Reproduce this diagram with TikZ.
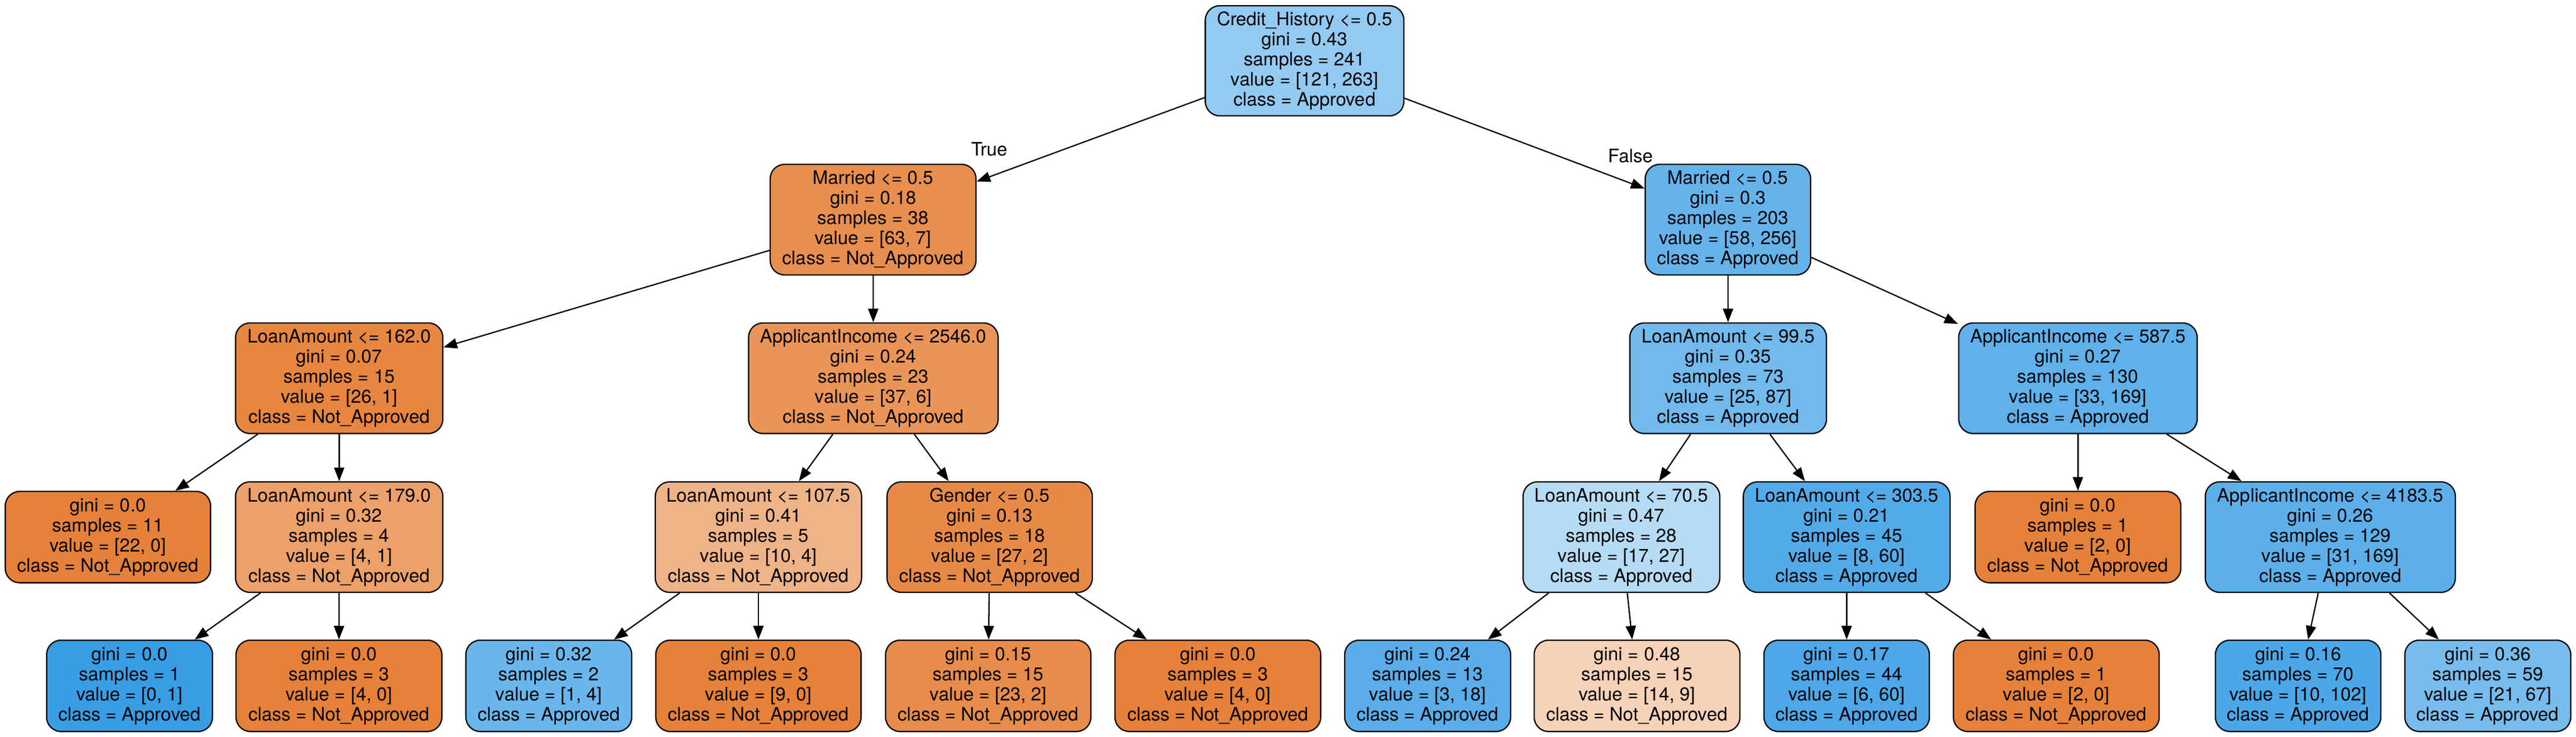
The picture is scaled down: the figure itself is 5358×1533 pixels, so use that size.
\documentclass[tikz,border=0pt]{standalone}
\usepackage{fontspec}
\setmainfont{TeX Gyre Heros}
\usetikzlibrary{arrows.meta}
\definecolor{cRoot}{RGB}{148,202,241}
\definecolor{cmL}{RGB}{232,143,79}
\definecolor{cmR}{RGB}{102,179,235}
\definecolor{cLAa}{RGB}{230,134,65}
\definecolor{cAIa}{RGB}{233,149,89}
\definecolor{cLAb}{RGB}{114,185,236}
\definecolor{cAIb}{RGB}{96,176,234}
\definecolor{cOr}{RGB}{229,129,57}
\definecolor{cBl}{RGB}{57,157,229}
\definecolor{cLAc}{RGB}{236,160,106}
\definecolor{cLAd}{RGB}{239,179,136}
\definecolor{cGen}{RGB}{231,138,72}
\definecolor{cLAe}{RGB}{182,219,245}
\definecolor{cLAf}{RGB}{83,170,232}
\definecolor{cAIc}{RGB}{93,175,234}
\definecolor{cLc}{RGB}{106,182,236}
\definecolor{cLe}{RGB}{231,140,74}
\definecolor{cLg}{RGB}{90,173,233}
\definecolor{cLh}{RGB}{246,210,184}
\definecolor{cLi}{RGB}{77,167,232}
\definecolor{cLk}{RGB}{76,167,232}
\definecolor{cLl}{RGB}{119,188,237}
\begin{document}
\begin{tikzpicture}[x=0.25pt,y=-0.25pt,
  tnode/.style={draw=black, line width=0.68pt, rounded corners=7.5pt, inner sep=0pt,
    align=center, font=\fontsize{9.65pt}{10.45pt}\selectfont},
  five/.style={tnode, minimum height=57.5pt},
  four/.style={tnode, minimum height=47.5pt},
  edge/.style={draw=black, line width=0.68pt, -{Triangle[length=7.1pt,width=5.3pt]}},
  elabel/.style={anchor=base, inner sep=0pt, font=\fontsize{9.65pt}{10.45pt}\selectfont}]
\useasboundingbox (0,0) rectangle (5358,1533);
% row 0
\node[five, minimum height=57.25pt, minimum width=103.25pt, fill=cRoot] (root) at (2713.5,126.5)
  {Credit\_History <= 0.5\\gini = 0.43\\samples = 241\\value = [121, 263]\\class = Approved};
% row 1
\node[five, minimum width=107pt, fill=cmL] (mL) at (1816,457)
  {Married <= 0.5\\gini = 0.18\\samples = 38\\value = [63, 7]\\class = Not\_Approved};
\node[five, minimum width=86pt, fill=cmR] (mR) at (3594,457)
  {Married <= 0.5\\gini = 0.3\\samples = 203\\value = [58, 256]\\class = Approved};
% row 2
\node[five, minimum width=107.75pt, fill=cLAa] (la162) at (705.5,787)
  {LoanAmount <= 162.0\\gini = 0.07\\samples = 15\\value = [26, 1]\\class = Not\_Approved};
\node[five, minimum width=129.75pt, fill=cAIa] (ai2546) at (1816.5,787)
  {ApplicantIncome <= 2546.0\\gini = 0.24\\samples = 23\\value = [37, 6]\\class = Not\_Approved};
\node[five, minimum width=102.25pt, fill=cLAb] (la995) at (3594.5,787)
  {LoanAmount <= 99.5\\gini = 0.35\\samples = 73\\value = [25, 87]\\class = Approved};
\node[five, minimum width=124pt, fill=cAIb] (ai5875) at (4322,787)
  {ApplicantIncome <= 587.5\\gini = 0.27\\samples = 130\\value = [33, 169]\\class = Approved};
% row 3
\node[four, minimum width=106.75pt, fill=cOr] (lf1) at (224.5,1117.5)
  {gini = 0.0\\samples = 11\\value = [22, 0]\\class = Not\_Approved};
\node[five, minimum width=107.75pt, fill=cLAc] (la179) at (705.5,1117.5)
  {LoanAmount <= 179.0\\gini = 0.32\\samples = 4\\value = [4, 1]\\class = Not\_Approved};
\node[five, minimum width=107.25pt, fill=cLAd] (la1075) at (1577.5,1117.5)
  {LoanAmount <= 107.5\\gini = 0.41\\samples = 5\\value = [10, 4]\\class = Not\_Approved};
\node[five, minimum width=106.75pt, fill=cGen] (gen) at (2058.5,1117.5)
  {Gender <= 0.5\\gini = 0.13\\samples = 18\\value = [27, 2]\\class = Not\_Approved};
\node[five, minimum width=102.25pt, fill=cLAe] (la705) at (3372.5,1117.5)
  {LoanAmount <= 70.5\\gini = 0.47\\samples = 28\\value = [17, 27]\\class = Approved};
\node[five, minimum width=107.5pt, fill=cLAf] (la3035) at (3841,1117.5)
  {LoanAmount <= 303.5\\gini = 0.21\\samples = 45\\value = [8, 60]\\class = Approved};
\node[four, minimum width=107pt, fill=cOr] (lf2) at (4322,1117.5)
  {gini = 0.0\\samples = 1\\value = [2, 0]\\class = Not\_Approved};
\node[five, minimum width=130pt, fill=cAIc] (ai41835) at (4847,1117.5)
  {ApplicantIncome <= 4183.5\\gini = 0.26\\samples = 129\\value = [31, 169]\\class = Approved};
% row 4
\node[four, minimum width=86.25pt, fill=cBl] (la) at (269.5,1427)
  {gini = 0.0\\samples = 1\\value = [0, 1]\\class = Approved};
\node[four, minimum width=107pt, fill=cOr] (lb) at (705,1427)
  {gini = 0.0\\samples = 3\\value = [4, 0]\\class = Not\_Approved};
\node[four, minimum width=86.25pt, fill=cLc] (lc) at (1141.5,1427)
  {gini = 0.32\\samples = 2\\value = [1, 4]\\class = Approved};
\node[four, minimum width=106.75pt, fill=cOr] (ld) at (1577.5,1427)
  {gini = 0.0\\samples = 3\\value = [9, 0]\\class = Not\_Approved};
\node[four, minimum width=106.75pt, fill=cLe] (le) at (2055.5,1427)
  {gini = 0.15\\samples = 15\\value = [23, 2]\\class = Not\_Approved};
\node[four, minimum width=107pt, fill=cOr] (lf) at (2533,1427)
  {gini = 0.0\\samples = 3\\value = [4, 0]\\class = Not\_Approved};
\node[four, minimum width=86.25pt, fill=cLg] (lg) at (2969.5,1427)
  {gini = 0.24\\samples = 13\\value = [3, 18]\\class = Approved};
\node[four, minimum width=107pt, fill=cLh] (lh) at (3405,1427)
  {gini = 0.48\\samples = 15\\value = [14, 9]\\class = Not\_Approved};
\node[four, minimum width=86pt, fill=cLi] (li) at (3841,1427)
  {gini = 0.17\\samples = 44\\value = [6, 60]\\class = Approved};
\node[four, minimum width=107pt, fill=cOr] (lj) at (4277,1427)
  {gini = 0.0\\samples = 1\\value = [2, 0]\\class = Not\_Approved};
\node[four, minimum width=86pt, fill=cLk] (lk) at (4780,1427)
  {gini = 0.16\\samples = 70\\value = [10, 102]\\class = Approved};
\node[four, minimum width=86.25pt, fill=cLl] (ll) at (5174.5,1427)
  {gini = 0.36\\samples = 59\\value = [21, 67]\\class = Approved};
% edges
\draw[edge] (root) -- (mL);
\draw[edge] (root) -- (mR);
\node[elabel] (tlab) at (2058,324) {True};
\node[elabel] (flab) at (3391.5,338) {False};
\draw[edge] (mL) -- (la162);
\draw[edge] (mL) -- (ai2546);
\draw[edge] (la162) -- (lf1);
\draw[edge] (la162) -- (la179);
\draw[edge] (la179) -- (la);
\draw[edge] (la179) -- (lb);
\draw[edge] (ai2546) -- (la1075);
\draw[edge] (ai2546) -- (gen);
\draw[edge] (la1075) -- (lc);
\draw[edge] (la1075) -- (ld);
\draw[edge] (gen) -- (le);
\draw[edge] (gen) -- (lf);
\draw[edge] (mR) -- (la995);
\draw[edge] (mR) -- (ai5875);
\draw[edge] (la995) -- (la705);
\draw[edge] (la995) -- (la3035);
\draw[edge] (la705) -- (lg);
\draw[edge] (la705) -- (lh);
\draw[edge] (la3035) -- (li);
\draw[edge] (la3035) -- (lj);
\draw[edge] (ai5875) -- (lf2);
\draw[edge] (ai5875) -- (ai41835);
\draw[edge] (ai41835) -- (lk);
\draw[edge] (ai41835) -- (ll);
\end{tikzpicture}
\end{document}
